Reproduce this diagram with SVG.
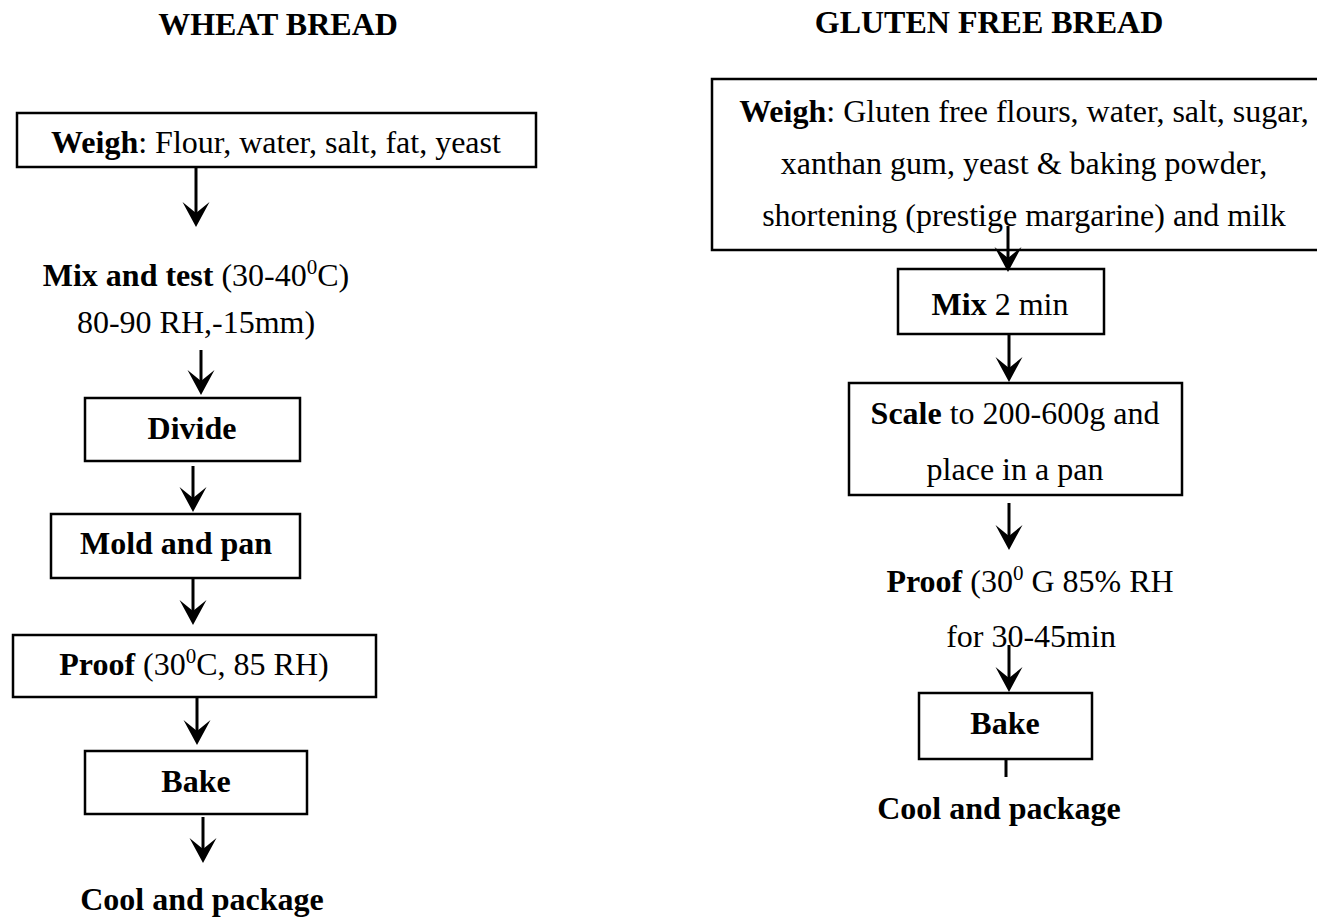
<svg xmlns="http://www.w3.org/2000/svg" width="1317" height="918" viewBox="0 0 1317 918">
<style>
text{font-family:"Liberation Serif","Times New Roman",serif;font-size:32px;fill:#000;text-anchor:middle}
.b{font-weight:bold}
.box{fill:#fff;stroke:#000;stroke-width:2.5}
.con{stroke:#000;stroke-width:3;fill:none}
.sup{font-size:21px}
</style>
<defs>
<marker id="ah" markerUnits="userSpaceOnUse" markerWidth="26" markerHeight="28" refX="13" refY="14" orient="auto" viewBox="0 0 26 28" overflow="visible">
<path d="M25,14 L0,0.5 L11,14 L0,27.5 Z" fill="#000"/>
</marker>
</defs>
<rect width="1317" height="918" fill="#fff"/>
<g id="title-wheat"><text class="b" x="278" y="35">WHEAT BREAD</text></g>
<g id="title-gf"><text class="b" x="989" y="33">GLUTEN FREE BREAD</text></g>

<g id="w-weigh"><rect class="box" x="17" y="113" width="519" height="54"/>
<text x="276" y="153"><tspan class="b">Weigh</tspan>: Flour, water, salt, fat, yeast</text></g>
<g id="w-mix"><text x="196" y="286"><tspan class="b">Mix and test</tspan> (30-40<tspan class="sup" dy="-12">0</tspan><tspan dy="12">C)</tspan></text>
<text x="196" y="333">80-90 RH,-15mm)</text></g>
<g id="w-divide"><rect class="box" x="85" y="398" width="215" height="63"/>
<text class="b" x="192" y="439">Divide</text></g>
<g id="w-mold"><rect class="box" x="51" y="514" width="249" height="64"/>
<text class="b" x="176" y="554">Mold and pan</text></g>
<g id="w-proof"><rect class="box" x="13" y="635" width="363" height="62"/>
<text x="194" y="675"><tspan class="b">Proof</tspan> (30<tspan class="sup" dy="-12">0</tspan><tspan dy="12">C, 85 RH)</tspan></text></g>
<g id="w-bake"><rect class="box" x="85" y="751" width="222" height="63"/>
<text class="b" x="196" y="792">Bake</text></g>
<g id="w-cool"><text class="b" x="202" y="910">Cool and package</text></g>

<g id="g-weigh"><rect class="box" x="712" y="79" width="624" height="171"/>
<text x="1024" y="122"><tspan class="b">Weigh</tspan>: Gluten free flours, water, salt, sugar,</text>
<text x="1024" y="174">xanthan gum, yeast &amp; baking powder,</text>
<text x="1024" y="226">shortening (prestige margarine) and milk</text></g>
<g id="g-mix"><rect class="box" x="898" y="269" width="206" height="65"/>
<text x="1000" y="315"><tspan class="b">Mix</tspan> 2 min</text></g>
<g id="g-scale"><rect class="box" x="849" y="383" width="333" height="112"/>
<text x="1015" y="424"><tspan class="b">Scale</tspan> to 200-600g and</text>
<text x="1015" y="480">place in a pan</text></g>
<g id="g-proof"><text x="1030" y="592"><tspan class="b">Proof</tspan> (30<tspan class="sup" dy="-12">0</tspan><tspan dy="12"> G 85% RH</tspan></text>
<text x="1031" y="647">for 30-45min</text></g>
<g id="g-bake"><rect class="box" x="919" y="693" width="173" height="66"/>
<text class="b" x="1005" y="734">Bake</text></g>
<g id="g-cool"><text class="b" x="999" y="819">Cool and package</text></g>

<g id="connectors">
<line class="con" x1="196" y1="167" x2="196" y2="215" marker-end="url(#ah)"/>
<line class="con" x1="201" y1="350" x2="201" y2="383" marker-end="url(#ah)"/>
<line class="con" x1="193" y1="466" x2="193" y2="500" marker-end="url(#ah)"/>
<line class="con" x1="193" y1="578" x2="193" y2="613" marker-end="url(#ah)"/>
<line class="con" x1="197" y1="697" x2="197" y2="733" marker-end="url(#ah)"/>
<line class="con" x1="203" y1="817" x2="203" y2="851" marker-end="url(#ah)"/>
<line class="con" x1="1008" y1="226" x2="1008" y2="260" marker-end="url(#ah)"/>
<line class="con" x1="1009" y1="334" x2="1009" y2="370" marker-end="url(#ah)"/>
<line class="con" x1="1009" y1="503" x2="1009" y2="538" marker-end="url(#ah)"/>
<line class="con" x1="1009" y1="645" x2="1009" y2="680" marker-end="url(#ah)"/>
<line class="con" x1="1006" y1="759" x2="1006" y2="777"/>
</g>
</svg>
